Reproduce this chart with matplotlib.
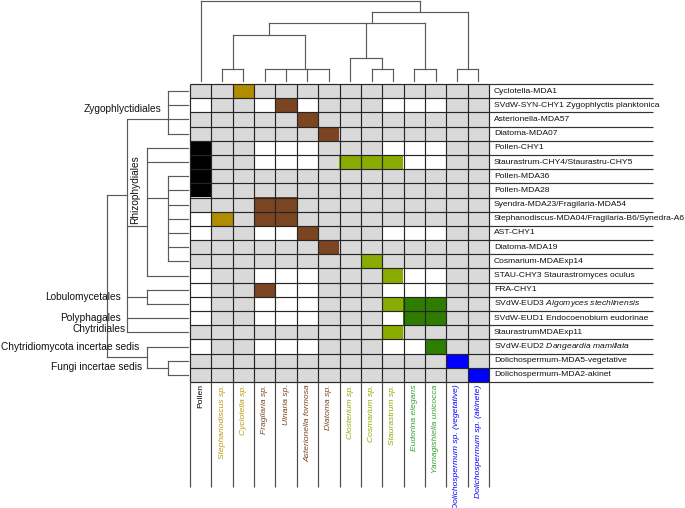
import numpy as np
import matplotlib
matplotlib.use("Agg")
import matplotlib.pyplot as plt
from matplotlib.colors import to_rgb

plt.rcParams['font.family'] = ['Liberation Sans', 'DejaVu Sans']
plt.rcParams['mathtext.fontset'] = 'custom'
plt.rcParams['mathtext.rm'] = 'Liberation Sans'
plt.rcParams['mathtext.it'] = 'Liberation Sans:italic'

# ---------------- data ----------------
col_labels = ["Pollen", "Stephanodiscus sp.", "Cyclotella sp.", "Fragilaria sp.", "Ulnaria sp.",
              "Asterionella formosa", "Diatoma sp.", "Closterium sp.", "Cosmarium sp.",
              "Staurastrum sp.", "Eudorina elegans", "Yamagishiella unicocca",
              "Dolichospermum sp. (vegetative)", "Dolichospermum sp. (akinete)"]
col_groups = ["pollen", "centric", "centric", "pennate", "pennate", "pennate", "pennate",
              "desmid", "desmid", "desmid", "volvox", "volvox", "cyano", "cyano"]

row_labels = ["Cyclotella-MDA1",
              "SVdW-SYN-CHY1 Zygophlyctis planktonica",
              "Asterionella-MDA57",
              "Diatoma-MDA07",
              "Pollen-CHY1",
              "Staurastrum-CHY4/Staurastru-CHY5",
              "Pollen-MDA36",
              "Pollen-MDA28",
              "Syendra-MDA23/Fragilaria-MDA54",
              "Stephanodiscus-MDA04/Fragilaria-B6/Synedra-A6",
              "AST-CHY1",
              "Diatoma-MDA19",
              "Cosmarium-MDAExp14",
              "STAU-CHY3 Staurastromyces oculus",
              "FRA-CHY1",
              r"SVdW-EUD3 $\mathit{Algomyces\ stechlinensis}$",
              "SVdW-EUD1 Endocoenobium eudorinae",
              "StaurastrumMDAExp11",
              r"SVdW-EUD2 $\mathit{Dangeardia\ mamillata}$",
              "Dolichospermum-MDA5-vegetative",
              "Dolichospermum-MDA2-akinet"]

# 0 = not tested (grey), 1 = tested / no infection (white), 2 = infection (host colour)
presence = np.array([
    [0, 0, 2, 0, 0, 0, 0, 0, 0, 0, 0, 0, 0, 0],
    [1, 0, 0, 1, 2, 1, 0, 0, 0, 1, 1, 1, 0, 0],
    [0, 0, 0, 0, 0, 2, 0, 0, 0, 0, 0, 0, 0, 0],
    [0, 0, 0, 0, 0, 0, 2, 0, 0, 0, 0, 0, 0, 0],
    [2, 0, 0, 1, 1, 1, 0, 0, 0, 1, 1, 1, 0, 0],
    [2, 0, 0, 1, 1, 1, 0, 2, 2, 2, 1, 1, 0, 0],
    [2, 0, 0, 0, 0, 0, 0, 0, 0, 0, 0, 0, 0, 0],
    [2, 0, 0, 0, 0, 0, 0, 0, 0, 0, 0, 0, 0, 0],
    [0, 0, 0, 2, 2, 0, 0, 0, 0, 0, 0, 0, 0, 0],
    [1, 2, 0, 2, 2, 0, 0, 0, 0, 0, 0, 0, 0, 0],
    [1, 0, 0, 1, 1, 2, 0, 0, 0, 1, 1, 1, 0, 0],
    [0, 0, 0, 0, 0, 0, 2, 0, 0, 0, 0, 0, 0, 0],
    [0, 0, 0, 0, 0, 0, 0, 0, 2, 0, 0, 0, 0, 0],
    [1, 0, 0, 1, 1, 1, 0, 0, 0, 2, 1, 1, 0, 0],
    [1, 0, 0, 2, 1, 1, 0, 0, 0, 1, 1, 1, 0, 0],
    [1, 0, 0, 1, 1, 1, 0, 0, 0, 2, 2, 2, 0, 0],
    [1, 0, 0, 1, 1, 1, 0, 0, 0, 1, 2, 2, 0, 0],
    [0, 0, 0, 0, 0, 0, 0, 0, 0, 2, 0, 0, 0, 0],
    [1, 0, 0, 1, 1, 1, 0, 0, 0, 1, 1, 2, 0, 0],
    [0, 0, 0, 0, 0, 0, 0, 0, 0, 0, 0, 0, 2, 0],
    [0, 0, 0, 0, 0, 0, 0, 0, 0, 0, 0, 0, 0, 2],
])

# host dendrogram: name -> (height, children, anchor column)
col_tree = {
    "cen":  (0.146, [1, 2], 1.5),
    "pen":  (0.146, [3, 4, 5, 6], 4.9),
    "dia":  (0.578, ["cen", "pen"], 3.2),
    "des":  (0.146, [8, 9], 8.5),
    "chl":  (0.291, [7, "des"], 7.75),
    "vol":  (0.146, [10, 11], 10.5),
    "alg":  (0.721, ["dia", "chl", "vol"], 8.0),
    "cya":  (0.146, [12, 13], 12.5),
    "aq":   (0.8625, ["alg", "cya"], 10.25),
    "root": (1.0, [0, "aq"], None),
}
# parasite dendrogram: name -> (level, children, anchor row)
row_tree = {
    "zyg":  (1, [0, 1, 2, 3], 2.0),
    "rin":  (1, [6, 7, 8, 9, 10, 11, 12], 7.5),
    "rhi":  (2, [4, 5, "rin", 13], 9.5),
    "lob":  (2, [14, 15], 14.5),
    "chy":  (3, ["zyg", "rhi", "lob", 16, 17], 7.3),
    "fun":  (1, [19, 20], 19.5),
    "inc":  (2, [18, "fun"], 18.75),
    "root": (4, ["chy", "inc"], None),
}

clade_labels = ["Zygophlyctidiales", "Rhizophydiales", "Lobulomycetales", "Polyphagales",
                "Chytridiales", "Chytridiomycota incertae sedis", "Fungi incertae sedis"]

# ---------------- styles ----------------
cell_colors = {"pollen": "#000000", "centric": "#b08c00", "pennate": "#7a4520",
               "desmid": "#8aab00", "volvox": "#2e7d00", "cyano": "#0000ff"}
text_colors = {"pollen": "#000000", "centric": "#b89a10", "pennate": "#7a4520",
               "desmid": "#8cae00", "volvox": "#35a030", "cyano": "#0000ff"}
GREY, WHITE = "#d9d9d9", "#ffffff"
LINE = "#5a5a5a"

W, H = 685, 508
X0, Y0 = 190, 84
nrow, ncol = presence.shape
cw = 299 / ncol
rh = 298 / nrow

fig = plt.figure(figsize=(W / 100, H / 100), dpi=100)
ax = fig.add_axes([0, 0, 1, 1])
ax.set_axis_off()

def px_x(p):
    return (p - X0) / cw

def px_y(p):
    return (p - Y0) / rh

# heat map cells
img = np.zeros((nrow, ncol, 3))
for r in range(nrow):
    for c in range(ncol):
        v = presence[r, c]
        col = GREY if v == 0 else WHITE if v == 1 else cell_colors[col_groups[c]]
        img[r, c] = to_rgb(col)
ax.imshow(img, extent=(0, ncol, nrow, 0), aspect='auto', interpolation='nearest', zorder=1)

grid_kw = dict(color="#262626", lw=0.85, zorder=2)
ax.hlines(np.arange(nrow + 1), 0, ncol, **grid_kw)
ax.vlines(np.arange(ncol + 1), 0, nrow, **grid_kw)

label_right = px_x(653)
col_bottom = px_y(487)
ax.hlines(np.arange(nrow + 1), ncol, label_right, color="#333333", lw=0.85, zorder=2)
ax.vlines(np.arange(ncol + 1), nrow, col_bottom, color="#4a4a4a", lw=0.85, zorder=2)

# row labels
for r, lab in enumerate(row_labels):
    ax.text(ncol + px_x(494) - ncol, r + 0.5, lab, ha='left', va='center', fontsize=6.1,
            color="#111111")

# column labels
for c, lab in enumerate(col_labels):
    g = col_groups[c]
    ax.text(c + 0.5, px_y(384.5), lab, rotation=90, ha='center', va='top', fontsize=6.1,
            color=text_colors[g], style='normal' if g == "pollen" else 'italic')

# ---- top dendrogram ----
def ty(h):
    return px_y(81) - h * (80 / rh)

def cpos(ch):
    if isinstance(ch, str):
        h, _, a = col_tree[ch]
        return a + 0.5, h
    return ch + 0.5, 0.0

lkw = dict(color=LINE, lw=0.85, solid_capstyle='projecting', zorder=3)
for name, (h, kids, a) in col_tree.items():
    yn = ty(h)
    xs = [cpos(k)[0] for k in kids]
    ax.plot([min(xs), max(xs)], [yn, yn], **lkw)
    for k in kids:
        kx, kh = cpos(k)
        ax.plot([kx, kx], [yn, ty(kh)], **lkw)

# ---- left dendrogram ----
def tx(level):
    return px_x(188) - level * (20.3 / cw)

def rpos(ch):
    if isinstance(ch, str):
        lv, _, a = row_tree[ch]
        return a + 0.5, lv
    return ch + 0.5, 0

for name, (lv, kids, a) in row_tree.items():
    xn = tx(lv)
    ys = [rpos(k)[0] for k in kids]
    ax.plot([xn, xn], [min(ys), max(ys)], **lkw)
    for k in kids:
        ky, kl = rpos(k)
        ax.plot([xn, tx(kl)], [ky, ky], **lkw)

# clade labels
ckw = dict(fontsize=7.3, color="#111111", zorder=4)
ax.text(px_x(161), px_y(108.5), clade_labels[0], ha='right', va='center', **ckw)
ax.text(px_x(135), px_y(224), clade_labels[1], rotation=90, ha='center', va='bottom', **ckw)
ax.text(px_x(121), px_y(297.3), clade_labels[2], ha='right', va='center', **ckw)
ax.text(px_x(121), px_y(317.7), clade_labels[3], ha='right', va='center', **ckw)
ax.text(px_x(125.5), px_y(329.5), clade_labels[4], ha='right', va='center', **ckw)
ax.text(px_x(139.5), px_y(347.3), clade_labels[5], ha='right', va='center', **ckw)
ax.text(px_x(142), px_y(366.7), clade_labels[6], ha='right', va='center', **ckw)

ax.set_xlim(px_x(0), px_x(W))
ax.set_ylim(px_y(H), px_y(0))

fig.savefig("out.png", dpi=100)
